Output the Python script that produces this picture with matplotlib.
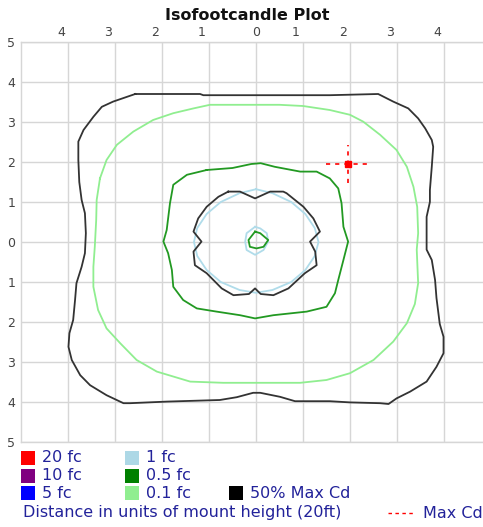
import matplotlib.pyplot as plt
import matplotlib.transforms as mtransforms
from matplotlib.patches import Rectangle
from matplotlib.lines import Line2D

# contour outlines, in units of mount height (x, y)
MAX_CD_50_OUTER = [
    (-2.57, 3.70), (-1.19, 3.70), (-1.12, 3.67), (1.57, 3.67), (2.60, 3.70),
    (2.92, 3.51), (3.24, 3.34), (3.45, 3.09), (3.60, 2.84), (3.74, 2.55),
    (3.77, 2.38), (3.74, 1.88), (3.70, 1.30), (3.70, 1.00), (3.63, 0.63),
    (3.63, -0.19), (3.74, -0.45), (3.81, -0.95), (3.84, -1.40), (3.91, -2.05),
    (3.99, -2.37), (3.99, -2.78), (3.84, -3.12), (3.63, -3.49), (3.28, -3.74),
    (2.99, -3.91), (2.82, -4.05), (2.64, -4.03), (2.00, -4.01), (1.57, -3.98),
    (0.83, -3.98), (0.51, -3.87), (0.09, -3.77), (-0.06, -3.77), (-0.41, -3.88),
    (-0.77, -3.95), (-1.62, -3.98), (-1.90, -3.99), (-2.68, -4.03), (-2.82, -4.03),
    (-3.18, -3.83), (-3.53, -3.58), (-3.74, -3.33), (-3.92, -2.95), (-3.99, -2.62),
    (-3.97, -2.28), (-3.89, -1.95), (-3.85, -1.45), (-3.82, -1.03), (-3.71, -0.62),
    (-3.64, -0.28), (-3.62, 0.22), (-3.64, 0.72), (-3.71, 1.05), (-3.76, 1.50),
    (-3.78, 2.05), (-3.78, 2.51), (-3.67, 2.80), (-3.46, 3.13), (-3.28, 3.38),
    (-3.04, 3.51), (-2.57, 3.70),
]
MAX_CD_50_INNER = [
    (-0.59, 1.26), (-0.34, 1.26), (-0.02, 1.09), (0.30, 1.26), (0.58, 1.26),
    (0.65, 1.22), (1.01, 0.88), (1.22, 0.59), (1.36, 0.26), (1.15, 0.01),
    (1.26, -0.24), (1.29, -0.58), (1.04, -0.78), (0.69, -1.16), (0.37, -1.33),
    (0.10, -1.30), (-0.02, -1.16), (-0.15, -1.30), (-0.48, -1.33), (-0.73, -1.16),
    (-1.05, -0.78), (-1.30, -0.58), (-1.33, -0.24), (-1.16, 0.01), (-1.33, 0.26),
    (-1.23, 0.59), (-1.05, 0.88), (-0.80, 1.13), (-0.59, 1.26),
]
FC_01 = [
    (-3.32, 1.59), (-3.18, 2.05), (-2.96, 2.43), (-2.61, 2.76), (-2.19, 3.05),
    (-1.76, 3.22), (-1.33, 3.34), (-0.98, 3.43), (-0.34, 3.43), (0.50, 3.43),
    (1.00, 3.40), (1.57, 3.30), (2.00, 3.18), (2.28, 3.01), (2.64, 2.68),
    (2.99, 2.30), (3.21, 1.88), (3.35, 1.38), (3.43, 0.88), (3.45, 0.22),
    (3.42, -0.19), (3.45, -1.03), (3.38, -1.55), (3.21, -2.03), (2.92, -2.49),
    (2.50, -2.95), (2.00, -3.28), (1.50, -3.45), (0.94, -3.52), (0.30, -3.52),
    (-0.70, -3.52), (-1.40, -3.49), (-2.11, -3.24), (-2.54, -2.95), (-2.89, -2.53),
    (-3.18, -2.16), (-3.36, -1.70), (-3.46, -1.12), (-3.46, -0.62), (-3.43, -0.12),
    (-3.40, 0.55), (-3.39, 1.05), (-3.32, 1.59),
]
FC_05_OUTER = [
    (-1.05, 1.80), (-0.50, 1.85), (-0.10, 1.95), (0.10, 1.97), (0.40, 1.88),
    (0.94, 1.76), (1.29, 1.76), (1.57, 1.59), (1.75, 1.34), (1.82, 0.97),
    (1.86, 0.38), (1.96, 0.01), (1.86, -0.45), (1.75, -0.95), (1.68, -1.28),
    (1.50, -1.62), (1.08, -1.74), (0.37, -1.83), (-0.02, -1.91), (-0.34, -1.83),
    (-0.84, -1.74), (-1.26, -1.66), (-1.55, -1.45), (-1.76, -1.12), (-1.79, -0.70),
    (-1.87, -0.28), (-1.97, 0.01), (-1.90, 0.30), (-1.83, 0.97), (-1.76, 1.43),
    (-1.47, 1.68), (-1.05, 1.80),
]
FC_05_INNER = [
    (-0.02, 0.26), (-0.16, 0.05), (-0.13, -0.12), (0.01, -0.16), (0.16, -0.12),
    (0.26, 0.05), (0.09, 0.22), (-0.02, 0.26),
]
FC_1_OUTER = [
    (0.00, 1.32), (0.35, 1.22), (0.75, 1.00), (1.05, 0.70), (1.25, 0.35),
    (1.33, 0.00), (1.25, -0.35), (1.05, -0.70), (0.75, -1.00), (0.35, -1.20),
    (0.00, -1.27), (-0.35, -1.20), (-0.75, -1.00), (-1.05, -0.70), (-1.25, -0.35),
    (-1.32, 0.00), (-1.25, 0.35), (-1.05, 0.70), (-0.75, 1.00), (-0.35, 1.22),
    (0.00, 1.32),
]
FC_1_INNER = [
    (-0.02, 0.38), (-0.20, 0.22), (-0.23, 0.01), (-0.20, -0.20), (-0.02, -0.32),
    (0.16, -0.20), (0.26, 0.01), (0.23, 0.22), (0.09, 0.34), (-0.02, 0.38),
]
MAX_CD_POINT = (1.96, 1.95)
MAX_CD_ARM = 0.48

LEGEND_LABELS = ["20 fc", "10 fc", "5 fc", "1 fc", "0.5 fc", "0.1 fc", "50% Max Cd"]
LEGEND_COLORS = ["#ff0000", "#800080", "#0000ff", "#add8e6", "#008000", "#90ee90", "#000000"]

X_TICKS = [-4, -3, -2, -1, 0, 1, 2, 3, 4]
Y_TICKS = [-5, -4, -3, -2, -1, 0, 1, 2, 3, 4, 5]

TEXT_BLUE = "#22229a"
GRID = "#d6d6d6"

W, H = 483, 527
fig = plt.figure(figsize=(W / 100, H / 100), dpi=100)
ax = fig.add_axes([21 / W, 1 - 442 / H, 470 / W, 400 / H])
ax.set_xlim(-5, 5)
ax.set_ylim(-5, 5)

ax.xaxis.tick_top()
ax.set_xticks(X_TICKS)
ax.set_xticklabels([str(abs(v)) for v in X_TICKS])
ax.set_yticks(Y_TICKS)
ax.set_yticklabels([str(abs(v)) for v in Y_TICKS])
ax.tick_params(length=0, labelsize=9, labelcolor="#444444")
ax.tick_params(axis="x", pad=2)
ax.tick_params(axis="y", pad=4)
# the source chart draws the top labels a little left of their grid lines
shift = mtransforms.ScaledTranslation(-7 / 100, 0, fig.dpi_scale_trans)
for value, lab in zip(X_TICKS, ax.get_xticklabels()):
    if value != 0:
        lab.set_transform(lab.get_transform() + shift)
ax.grid(True, color=GRID, linewidth=1.0)
ax.set_axisbelow(True)
for side in ax.spines.values():
    side.set_color(GRID)
    side.set_linewidth(1.0)


def draw(points, color):
    xs = [p[0] for p in points]
    ys = [p[1] for p in points]
    ax.plot(xs, ys, color=color, linewidth=1.3, solid_joinstyle="round")


draw(FC_01, "#90ee90")
draw(MAX_CD_50_OUTER, "#333333")
draw(FC_05_OUTER, "#229922")
draw(FC_1_OUTER, "#b0dcea")
draw(MAX_CD_50_INNER, "#333333")
draw(FC_1_INNER, "#b0dcea")
draw(FC_05_INNER, "#229922")

mx, my = MAX_CD_POINT
ax.plot([mx - MAX_CD_ARM, mx + MAX_CD_ARM], [my, my], color="#ff0000",
        linestyle=(0, (2.5, 3)), linewidth=1.2)
ax.plot([mx, mx], [my - MAX_CD_ARM, my + MAX_CD_ARM], color="#ff0000",
        linestyle=(0, (2.5, 3)), linewidth=1.2)
ax.plot([mx], [my], marker="s", markersize=5, color="#ff0000")

fig.text(247 / W, 1 - 15 / H, "Isofootcandle Plot", ha="center", va="center",
         fontsize=11.5, fontweight="bold", color="#111111")

# legend block under the plot
col_x = [21, 125, 229]
row_y = [458, 476, 493]
slots = [(0, 0), (0, 1), (0, 2), (1, 0), (1, 1), (1, 2), (2, 2)]
for label, color, (c, r) in zip(LEGEND_LABELS, LEGEND_COLORS, slots):
    x0 = col_x[c]
    y0 = row_y[r]
    fig.patches.append(Rectangle((x0 / W, 1 - (y0 + 7) / H), 14 / W, 14 / H,
                                 transform=fig.transFigure, facecolor=color,
                                 edgecolor="none"))
    fig.text((x0 + 21) / W, 1 - y0 / H, label, ha="left", va="center",
             fontsize=11.5, color=TEXT_BLUE)

fig.text(23 / W, 1 - 513 / H, "Distance in units of mount height (20ft)",
         ha="left", va="center", fontsize=11.5, color=TEXT_BLUE)
fig.lines.append(Line2D([388 / W, 413 / W], [1 - 513 / H, 1 - 513 / H],
                        transform=fig.transFigure, color="#ff0000",
                        linestyle=(0, (2.5, 2.5)), linewidth=1.0))
fig.text(423 / W, 1 - 513 / H, "Max Cd", ha="left", va="center",
         fontsize=11.5, color=TEXT_BLUE)

fig.savefig("out.png", dpi=100)
